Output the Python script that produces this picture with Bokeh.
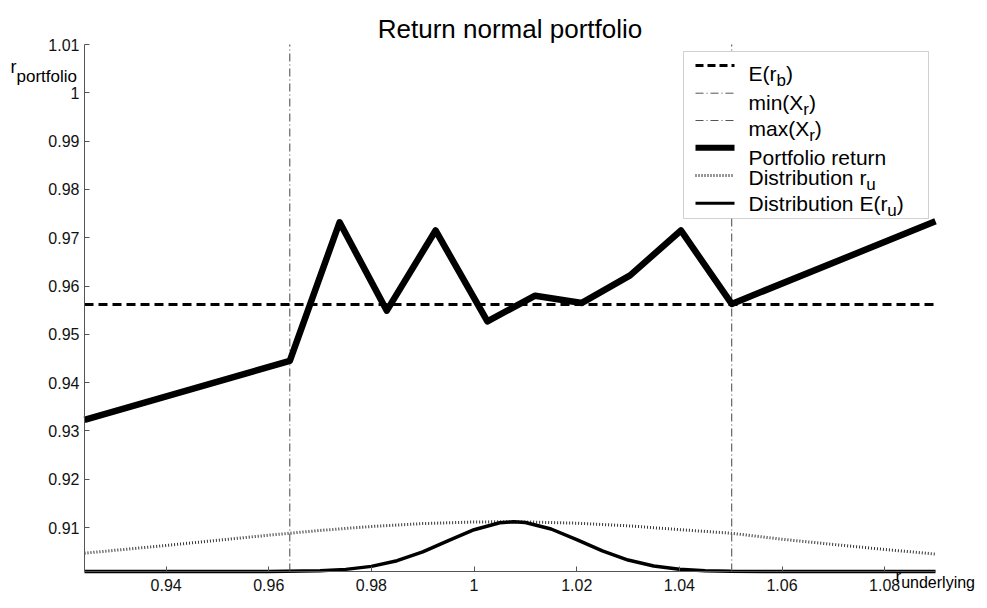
from bokeh.plotting import figure
from bokeh.models import Label, BoxAnnotation, FixedTicker, Range1d, LinearAxis
from bokeh.embed import file_html
from bokeh.resources import INLINE

# ---------------- data ----------------
port_x = [0.9241, 0.9641, 0.9738, 0.9830, 0.9925, 1.0026, 1.0119, 1.0210, 1.0304, 1.0403, 1.0502, 1.0899]
port_y = [0.9323, 0.9445, 0.9732, 0.9549, 0.9715, 0.9527, 0.9580, 0.9565, 0.9622, 0.9715, 0.9563, 0.9734]

E_rb = 0.9562
min_Xr = 0.9641
max_Xr = 1.0502

dist_ru_x = [0.9241, 0.94, 0.95, 0.96, 0.97, 0.98, 0.99, 1.0, 1.006, 1.01, 1.02, 1.03, 1.04, 1.05, 1.06, 1.07, 1.08, 1.0899]
dist_ru_y = [0.90469, 0.90629, 0.90736, 0.90842, 0.9094, 0.91022, 0.91082, 0.91115, 0.9112, 0.91117, 0.9109,
             0.91036, 0.90957, 0.90883, 0.90758, 0.9065, 0.90546, 0.90451]

dist_Eru_x = [0.9241, 0.94, 0.95, 0.96, 0.97, 0.975, 0.98, 0.985, 0.99, 0.995, 1.0, 1.005, 1.0077, 1.01, 1.015,
              1.02, 1.025, 1.03, 1.035, 1.04, 1.045, 1.05, 1.06, 1.0899]
dist_Eru_y = [0.9009, 0.9009, 0.90090, 0.90091, 0.90105, 0.90134, 0.90196, 0.90314, 0.90498, 0.9073, 0.90955,
              0.91098, 0.9112, 0.91104, 0.9097, 0.90748, 0.90515, 0.90327, 0.90204, 0.90137, 0.90107, 0.90096,
              0.9009, 0.9009]

x_ticks = [0.94, 0.96, 0.98, 1.0, 1.02, 1.04, 1.06, 1.08]
x_tick_labels = ["0.94", "0.96", "0.98", "1", "1.02", "1.04", "1.06", "1.08"]
y_ticks = [0.91, 0.92, 0.93, 0.94, 0.95, 0.96, 0.97, 0.98, 0.99, 1.0, 1.01]
y_tick_labels = ["0.91", "0.92", "0.93", "0.94", "0.95", "0.96", "0.97", "0.98", "0.99", "1", "1.01"]

X0, X1 = 0.9241, 1.0899   # axes limits
Y0, Y1 = 0.9009, 1.01

# ---------------- layout (picture pixels) ----------------
W, H = 979, 592
CL, CT, CR, CB = 0, 0, W, H              # canvas box in the picture
FL, FR, FT, FB = 84, 935, 44, 571        # axes box in the picture
FONT = "Liberation Sans"

sx = (X1 - X0) / (FR - FL)
sy = (Y1 - Y0) / (FB - FT)


def px2x(px):
    return X0 + (px - FL) * sx


def py2y(py):
    return Y1 - (py - FT) * sy


p = figure(width=W, height=H, output_backend="svg", toolbar_location=None,
           x_range=Range1d(px2x(CL), px2x(CR)), y_range=Range1d(py2y(CB), py2y(CT)),
           x_axis_location=None, y_axis_location=None,
           min_border_left=0, min_border_right=0, min_border_top=0, min_border_bottom=0)
p.title.visible = False
p.outline_line_color = None
p.xgrid.visible = False
p.ygrid.visible = False
p.background_fill_color = "white"
p.border_fill_color = "white"

xaxis = LinearAxis(fixed_location=Y0, bounds=(X0, X1))
yaxis = LinearAxis(fixed_location=X0, bounds=(Y0, Y1))
p.add_layout(xaxis, "below")
p.add_layout(yaxis, "left")
for ax, ticks, labels in ((xaxis, x_ticks, x_tick_labels), (yaxis, y_ticks, y_tick_labels)):
    ax.ticker = FixedTicker(ticks=ticks)
    ax.major_label_overrides = {t: l for t, l in zip(ticks, labels)}
    ax.major_tick_in = 5
    ax.major_tick_out = 0
    ax.minor_tick_line_color = None
    ax.axis_line_color = "#555555"
    ax.major_tick_line_color = "#555555"
    ax.major_label_text_font = FONT
    ax.major_label_text_font_size = "16px"
    ax.major_label_text_color = "#111111"
xaxis.major_label_standoff = 7
yaxis.major_label_standoff = 5

# ---------------- marks ----------------
p.line(dist_ru_x, dist_ru_y, line_color="#333333", line_width=3, line_dash="1 2")
p.line(dist_Eru_x, dist_Eru_y, line_color="black", line_width=3.5)
p.segment(x0=[min_Xr, max_Xr], y0=[Y0, Y0], x1=[min_Xr, max_Xr], y1=[Y1, Y1],
          line_color="#444444", line_width=1, line_dash="8 3 1 3")
p.segment(x0=[X0], y0=[E_rb], x1=[X1], y1=[E_rb], line_color="black", line_width=3, line_dash="9 5")
p.line(port_x, port_y, line_color="black", line_width=6.5, line_join="round")

# ---------------- title & axis labels ----------------
p.add_layout(Label(x=px2x((FL + FR) / 2), y=py2y(28), text="Return normal portfolio", text_font=FONT,
                   text_font_size="26px", text_align="center", text_baseline="alphabetic", text_color="black"))

WID = {'E': .667, '(': .333, ')': .333, 'r': .333, 'm': .833, 'i': .222, 'n': .556, 'X': .667, 'a': .556,
       'x': .5, 'P': .667, 'o': .556, 't': .278, 'f': .278, 'l': .222, ' ': .278, 'e': .556, 'u': .556,
       'D': .722, 's': .5, 'b': .556, 'p': .556, 'd': .556, 'y': .5, 'g': .556}


def add_text(x_px, base_px, parts, size=21, sub_size=17, sub_drop=7):
    off = 0.0
    for txt, sub in parts:
        fs = sub_size if sub else size
        yb = base_px + (sub_drop if sub else 0)
        p.add_layout(Label(x=px2x(x_px), y=py2y(yb), x_offset=off, text=txt, text_font=FONT,
                           text_font_size=f"{fs}px", text_align="left", text_baseline="alphabetic",
                           text_color="black"))
        off += sum(WID.get(c, .556) for c in txt) * fs


add_text(10, 66, [("r", False), ("portfolio", True)], size=18, sub_size=17, sub_drop=10)

# ---------------- legend ----------------
p.add_layout(BoxAnnotation(left=px2x(683), right=px2x(928), top=py2y(51), bottom=py2y(218),
                           fill_color="white", fill_alpha=1, line_color="#666666", line_width=1))
lx0, lx1 = px2x(695), px2x(734)
samples = [
    (65, dict(line_color="black", line_width=3, line_dash="8 4")),
    (92.7, dict(line_color="#555555", line_width=1, line_dash="8 3 1 3")),
    (120, dict(line_color="#555555", line_width=1, line_dash="8 3 1 3")),
    (147.3, dict(line_color="black", line_width=6)),
    (175, dict(line_color="#333333", line_width=3, line_dash="1 2")),
    (202.7, dict(line_color="black", line_width=3)),
]
for yy, st in samples:
    r = p.line([lx0, lx1], [py2y(yy), py2y(yy)], **st)
    r.level = "overlay"

TX = 748
add_text(TX, 73.3, [("E(r", False), ("b", True), (")", False)])
add_text(TX, 101.7, [("min(X", False), ("r", True), (")", False)])
add_text(TX, 128.3, [("max(X", False), ("r", True), (")", False)])
add_text(TX, 156.7, [("Portfolio return", False)])
add_text(TX, 176.7, [("Distribution r", False), ("u", True)])
add_text(TX, 203.3, [("Distribution E(r", False), ("u", True), (")", False)])

add_text(895, 576, [("r", False), ("underlying", True)], size=17, sub_size=16, sub_drop=6)

open("out.html", "w").write(file_html(p, INLINE))
